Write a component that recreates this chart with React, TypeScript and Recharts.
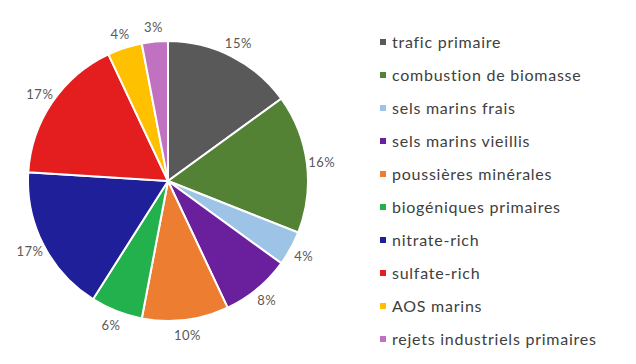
import React from "react";
import { PieChart, Pie, Cell, Legend } from "recharts";

const CATEGORIES = [
  "trafic primaire",
  "combustion de biomasse",
  "sels marins frais",
  "sels marins vieillis",
  "poussières minérales",
  "biogéniques primaires",
  "nitrate-rich",
  "sulfate-rich",
  "AOS marins",
  "rejets industriels primaires",
];

const SHARES = [15, 16, 4, 8, 10, 6, 17, 17, 4, 3];

const COLORS = [
  "#595959",
  "#548235",
  "#9dc3e6",
  "#6a1f9c",
  "#ed7d31",
  "#22b14c",
  "#1f1f99",
  "#e41e1e",
  "#ffc000",
  "#c071c0",
];

const data = CATEGORIES.map((name, i) => ({ name, value: SHARES[i] }));

const FONT = "Lato, 'Open Sans', sans-serif";
const RAD = Math.PI / 180;

function renderLabel(props: any) {
  const { cx, cy, midAngle, outerRadius, value } = props;
  const r = outerRadius + 15;
  const x = cx + r * Math.cos(-midAngle * RAD);
  const y = cy + r * Math.sin(-midAngle * RAD);
  return (
    <text
      x={x}
      y={y}
      fill="#595959"
      fontSize={13}
      fontFamily={FONT}
      letterSpacing={0.5}
      textAnchor="middle"
      dominantBaseline="central"
    >
      {`${value}%`}
    </text>
  );
}

function LegendList() {
  return (
    <ul style={{ listStyle: "none", margin: 0, padding: 0, fontFamily: FONT }}>
      {CATEGORIES.map((name, i) => (
        <li
          key={name}
          style={{
            display: "flex",
            alignItems: "center",
            height: 33,
            fontSize: 16,
            letterSpacing: 0.75,
            color: "#404040",
            whiteSpace: "nowrap",
          }}
        >
          <span
            style={{
              display: "inline-block",
              width: 6,
              height: 6,
              background: COLORS[i],
              marginRight: 6,
            }}
          />
          {name}
        </li>
      ))}
    </ul>
  );
}

export default function App() {
  return (
    <div style={{ position: "absolute", left: 0, top: 0, width: 636, height: 364, background: "#fff" }}>
      <PieChart width={636} height={364}>
        <Pie
          data={data}
          dataKey="value"
          nameKey="name"
          cx={163}
          cy={176}
          outerRadius={140}
          startAngle={90}
          endAngle={-270}
          stroke="#fff"
          strokeWidth={2}
          label={renderLabel}
          labelLine={false}
          isAnimationActive={false}
        >
          {data.map((d, i) => (
            <Cell key={d.name} fill={COLORS[i]} />
          ))}
        </Pie>
        <Legend
          layout="vertical"
          verticalAlign="top"
          align="right"
          wrapperStyle={{ left: 380, top: 25, width: 256 }}
          content={() => <LegendList />}
        />
      </PieChart>
    </div>
  );
}
